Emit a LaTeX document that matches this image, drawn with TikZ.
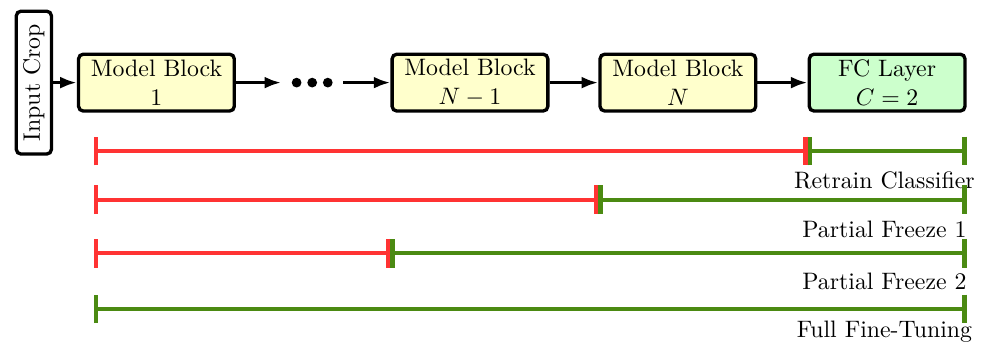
\documentclass[tikz,border=0pt]{standalone}
\usetikzlibrary{arrows.meta}
\definecolor{blockyellow}{RGB}{255,255,204}
\definecolor{fcgreen}{RGB}{204,255,204}
\definecolor{frozenred}{RGB}{255,51,51}
\definecolor{trainedgreen}{RGB}{75,138,18}

\begin{document}
\begin{tikzpicture}[
  block/.style={draw, line width=1.4pt, rounded corners=2pt, fill=blockyellow,
    minimum width=2.30cm, minimum height=0.84cm, align=center, inner sep=2pt},
  flow/.style={line width=1.4pt, -{Latex[length=7pt,width=5pt]}},
  frozen/.style={draw=frozenred, line width=1.8pt, {Bar[width=12pt]}-{Bar[width=12pt]}},
  trained/.style={draw=trainedgreen, line width=1.8pt, {Bar[width=12pt]}-{Bar[width=12pt]}},
  caption/.style={anchor=base}
]
\useasboundingbox (0,0) rectangle (14.56,-5.11);

% network
\node[draw, line width=1.4pt, rounded corners=2pt, rotate=90, minimum width=2.11cm,
  minimum height=0.52cm, inner sep=2pt] (crop) at (0.50,-1.22) {Input Crop};
\node[block] (mb1) at (2.31,-1.22) {Model Block\\1};
\node[minimum width=0.9cm, inner sep=0pt] (dots) at (4.61,-1.22) {};
\node[block] (mbn1) at (6.94,-1.22) {Model Block\\$N-1$};
\node[block] (mbn) at (10.01,-1.22) {Model Block\\$N$};
\node[block, fill=fcgreen] (fc) at (13.10,-1.22) {FC Layer\\$C=2$};

\foreach \dx in {-0.23,0,0.23}
  \fill ([xshift=\dx cm]dots.center) circle (0.072);

\draw[flow] (crop) -- (mb1);
\draw[flow] (mb1) -- (dots);
\draw[flow] (dots) -- (mbn1);
\draw[flow] (mbn1) -- (mbn);
\draw[flow] (mbn) -- (fc);

% frozen / trained ranges
\coordinate (r1) at (1.39,-2.23);
\coordinate (r2) at (1.39,-2.95);
\coordinate (r3) at (1.39,-3.74);
\coordinate (r4) at (1.39,-4.56);

\draw[frozen] (r1) -- (r1 -| fc.west);
\draw[trained] (r1 -| fc.west) -- (r1 -| fc.east);
\node[caption] (l1) at (13.06,-2.78) {Retrain Classifier};

\draw[frozen] (r2) -- (r2 -| mbn.west);
\draw[trained] (r2 -| mbn.west) -- (r2 -| fc.east);
\node[caption] (l2) at (13.06,-3.50) {Partial Freeze 1};

\draw[frozen] (r3) -- (r3 -| mbn1.west);
\draw[trained] (r3 -| mbn1.west) -- (r3 -| fc.east);
\node[caption] (l3) at (13.06,-4.27) {Partial Freeze 2};

\draw[trained] (r4) -- (r4 -| fc.east);
\node[caption] (l4) at (13.06,-4.99) {Full Fine-Tuning};
\end{tikzpicture}
\end{document}
